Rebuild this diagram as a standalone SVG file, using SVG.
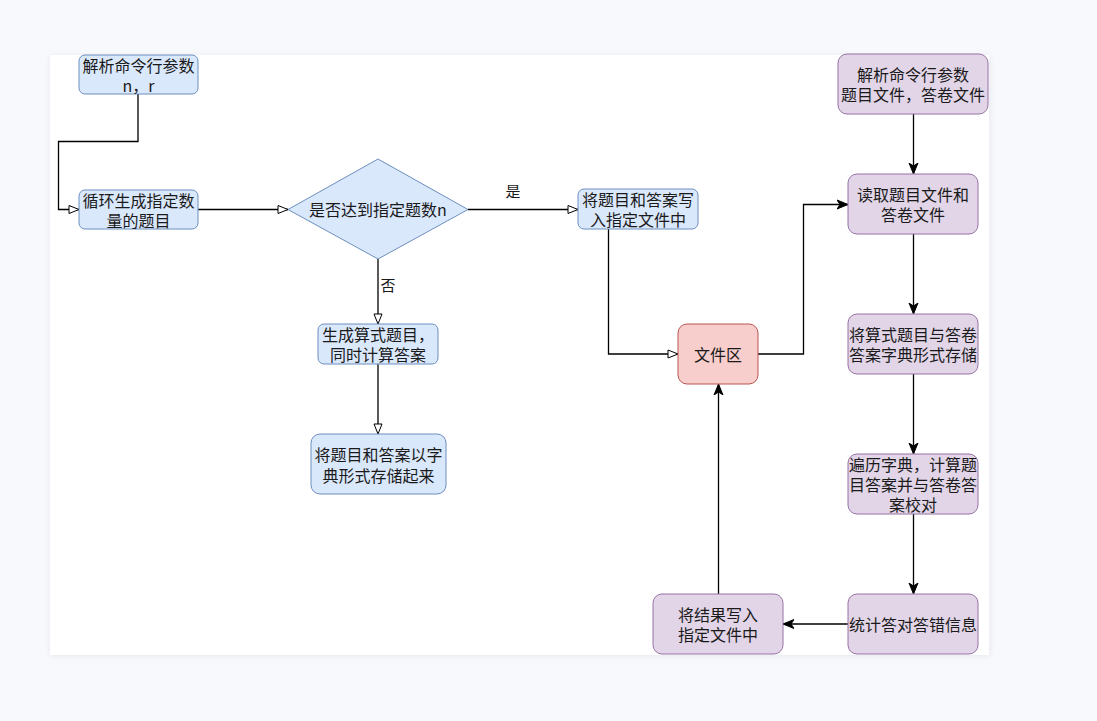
<svg xmlns="http://www.w3.org/2000/svg" width="1097" height="721" viewBox="0 0 1097 721">
<defs>
<marker id="open" viewBox="0 0 12 12" refX="11" refY="6" markerWidth="12" markerHeight="12" markerUnits="userSpaceOnUse" orient="auto">
<path d="M1,2 L11,6 L1,10 Z" fill="#ffffff" stroke="#000000" stroke-width="1"/>
</marker>
<marker id="filled" viewBox="0 0 12 12" refX="11" refY="6" markerWidth="12" markerHeight="12" markerUnits="userSpaceOnUse" orient="auto">
<path d="M0,1.5 L11,6 L0,10.5 L3,6 Z" fill="#000000" stroke="#000000" stroke-width="1"/>
</marker>
<filter id="sh" x="-5%" y="-5%" width="110%" height="110%">
<feGaussianBlur stdDeviation="3"/>
</filter>
</defs>
<style>
.blue{fill:#dae8fc;stroke:#6c8ebf;stroke-width:1}
.purple{fill:#e1d5e7;stroke:#9673a6;stroke-width:1}
.red{fill:#f8cecc;stroke:#b85450;stroke-width:1}
text{font-family:"Noto Sans CJK SC","Noto Sans",sans-serif;font-size:16px;fill:#1a1a1a;text-anchor:middle;dominant-baseline:central}
.lbl{font-size:15px}
.edge{fill:none;stroke:#000000;stroke-width:1.3}
.o{marker-end:url(#open)}
.f{marker-end:url(#filled)}
</style>
<rect x="0" y="0" width="1097" height="721" fill="#f8f9fc"/>
<rect x="50" y="56" width="940" height="600" fill="#e6e8ee" filter="url(#sh)"/>
<rect x="50" y="55" width="939" height="600" fill="#ffffff"/>

<g id="connectors">
<path class="edge o" d="M138,94 V141.5 H58.5 V209.5 H79"/>
<path class="edge o" d="M198,209.5 H288"/>
<path class="edge o" d="M468,209.5 H578"/>
<path class="edge o" d="M378,259 V324"/>
<path class="edge o" d="M378,364 V434"/>
<path class="edge o" d="M608.5,229 V354 H678"/>
<path class="edge f" d="M758,354 H803.5 V204.5 H848"/>
<path class="edge f" d="M913.5,114 V174"/>
<path class="edge f" d="M913.5,234 V314"/>
<path class="edge f" d="M913.5,374 V454"/>
<path class="edge f" d="M913.5,514 V594"/>
<path class="edge f" d="M848,624 H783"/>
<path class="edge f" d="M718.5,594 V384"/>
<text class="lbl" x="513" y="190">是</text>
<text class="lbl" x="388" y="284">否</text>
</g>

<g id="n1"><rect class="blue" x="79" y="55" width="119" height="39" rx="6"/>
<text x="138.5" y="65">解析命令行参数<tspan x="138.5" dy="20">n，r</tspan></text></g>

<g id="n2"><rect class="blue" x="79" y="190" width="119" height="39" rx="6"/>
<text x="138.5" y="200">循环生成指定数<tspan x="138.5" dy="20">量的题目</tspan></text></g>

<g id="n3"><path class="blue" d="M378,159 L468,209.5 L378,259 L288,209.5 Z"/>
<text x="378" y="209">是否达到指定题数n</text></g>

<g id="n4"><rect class="blue" x="578" y="189" width="120" height="40" rx="6"/>
<text x="638" y="199">将题目和答案写<tspan x="638" dy="20">入指定文件中</tspan></text></g>

<g id="n5"><rect class="blue" x="318" y="324" width="120" height="40" rx="6"/>
<text x="378" y="334">生成算式题目，<tspan x="378" dy="20">同时计算答案</tspan></text></g>

<g id="n6"><rect class="blue" x="311" y="434" width="135" height="60" rx="9"/>
<text x="378.5" y="454">将题目和答案以字<tspan x="378.5" dy="21">典形式存储起来</tspan></text></g>

<g id="n7"><rect class="red" x="678" y="324" width="80" height="60" rx="9"/>
<text x="718" y="354">文件区</text></g>

<g id="n8"><rect class="purple" x="838" y="54" width="150" height="60" rx="9"/>
<text x="913" y="74">解析命令行参数<tspan x="913" dy="20">题目文件，答卷文件</tspan></text></g>

<g id="n9"><rect class="purple" x="848" y="174" width="130" height="60" rx="9"/>
<text x="913" y="194">读取题目文件和<tspan x="913" dy="20">答卷文件</tspan></text></g>

<g id="n10"><rect class="purple" x="848" y="314" width="130" height="60" rx="9"/>
<text x="913" y="334">将算式题目与答卷<tspan x="913" dy="20">答案字典形式存储</tspan></text></g>

<g id="n11"><rect class="purple" x="848" y="454" width="130" height="60" rx="9"/>
<text x="913" y="464">遍历字典，计算题<tspan x="913" dy="20">目答案并与答卷答</tspan><tspan x="913" dy="20">案校对</tspan></text></g>

<g id="n12"><rect class="purple" x="848" y="594" width="130" height="60" rx="9"/>
<text x="913" y="624">统计答对答错信息</text></g>

<g id="n13"><rect class="purple" x="653" y="594" width="130" height="60" rx="9"/>
<text x="718" y="614">将结果写入<tspan x="718" dy="20">指定文件中</tspan></text></g>
</svg>
